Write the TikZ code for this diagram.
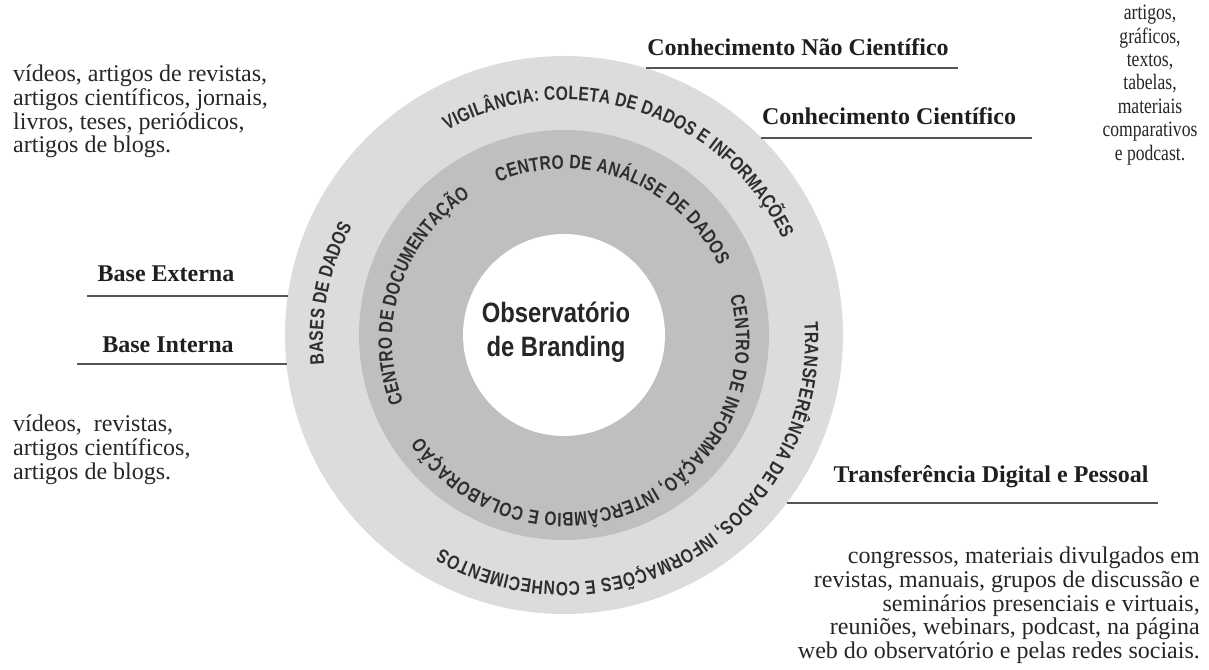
\documentclass[tikz,border=0pt]{standalone}
\usepackage{fontspec}
\setmainfont{Liberation Serif}
\newfontfamily\ringfont{Liberation Sans}[FakeStretch=0.8]
\newfontfamily\corefont{Liberation Sans}[FakeStretch=0.85]
\newfontfamily\narrowserif{Liberation Serif}[FakeStretch=0.8]
\usetikzlibrary{decorations.text}
\definecolor{ringink}{HTML}{2E2E2E}
\definecolor{ringouter}{HTML}{DCDCDC}
\definecolor{ringmid}{HTML}{BFBFBF}
\definecolor{leadgray}{HTML}{555555}
\newcommand\ringtype{\ringfont\bfseries\fontsize{19.5}{20}\selectfont}

\begin{document}
\begin{tikzpicture}[x=1pt,y=1pt,
  disc/.style={circle,inner sep=0pt,outer sep=0pt,draw=none},
  leader/.style={leadgray,line width=1.6pt},
  head/.style={font=\bfseries\fontsize{24}{24}\selectfont,text=black!88,inner sep=0pt,anchor=base},
  list/.style={font=\fontsize{24}{23.6}\selectfont,text=black!85,inner sep=0pt},
  ringtext/.style={decorate,decoration={text along path,text align={fit to path},text color=ringink,text={|\ringtype|#1}}}]

    \useasboundingbox (0,0) rectangle (1209,669);
    \coordinate (tc) at (564,328);

    % The rings
    \node [disc,fill=ringouter,minimum size=558pt] at (564,334) (outerring) {};
    \node [disc,fill=ringmid,minimum size=410pt] at (564,334) (midring) {};
    \node [disc,fill=white,minimum size=202pt] at (564,334) (core) {};
    \node [font=\corefont\bfseries\fontsize{28}{34}\selectfont,text=black!85,align=center] at (556,337) (obs) {Observatório\\de Branding};

    % Texts along the rings
    \path[ringtext={BASES DE DADOS}]
    ([shift={(185.5:241)}]tc) arc[start angle=185.5,end angle=151.5,radius=241];
    \path[ringtext={VIGILÂNCIA: COLETA DE DADOS E INFORMAÇÕES}]
    ([shift={(119:241)}]tc) arc[start angle=119,end angle=25,radius=241];
    \path[ringtext={TRANSFERÊNCIA DE DADOS, INFORMAÇÕES E CONHECIMENTOS}]
    ([shift={(4.5:241)}]tc) arc[start angle=4.5,end angle=-120.5,radius=241];
    \path[ringtext={CENTRO DE DOCUMENTAÇÃO}]
    ([shift={(201:172)}]tc) arc[start angle=201,end angle=123,radius=172];
    \path[ringtext={CENTRO DE ANÁLISE DE DADOS}]
    ([shift={(112.5:172)}]tc) arc[start angle=112.5,end angle=26,radius=172];
    \path[ringtext={CENTRO DE INFORMAÇÃO, INTERCÂMBIO E COLABORAÇÃO}]
    ([shift={(15:172)}]tc) arc[start angle=15,end angle=-146,radius=172];

    % Left side
    \coordinate (bextend) at (87,0);
    \coordinate (bintend) at (77,0);
    \node [list,align=left,anchor=north west] at (13,604) (bextlist) {vídeos, artigos de revistas,\\artigos científicos, jornais,\\livros, teses, periódicos,\\artigos de blogs.};
    \node [head] at (166,387) (bext) {Base Externa};
    \node [head] at (168,316) (bint) {Base Interna};
    \node [list,align=left,anchor=north west] at (13,254) (bintlist) {vídeos,\ \ revistas,\\artigos científicos,\\artigos de blogs.};

    % Right side
    \coordinate (cncend) at (958,0);
    \coordinate (ccend) at (1032,0);
    \coordinate (tdpend) at (1158,0);
    \node [head] at (798,613) (cnc) {Conhecimento Não Científico};
    \node [head] at (889,544) (cc) {Conhecimento Científico};
    \node [list,font=\narrowserif\fontsize{22}{23.4}\selectfont,align=center,anchor=north] at (1150,664) (cclist) {artigos,\\gráficos,\\textos,\\tabelas,\\materiais\\comparativos\\e podcast.};
    \node [head] at (991,186) (tdp) {Transferência Digital e Pessoal};
    \node [list,align=right,anchor=north east] at (1200,122) (tdplist) {congressos, materiais divulgados em\\revistas, manuais, grupos de discussão e\\seminários presenciais e virtuais,\\reuniões, webinars, podcast, na página\\web do observatório e pelas redes sociais.};

    % Leaders
    \path[leader]
    (outerring.172) edge (outerring.172 -| bextend)
    (outerring.186.8) edge (outerring.186.8 -| bintend)
    (outerring.73.1) edge (outerring.73.1 -| cncend)
    (outerring.45.2) edge (outerring.45.2 -| ccend)
    (outerring.323.74) edge (outerring.323.74 -| tdpend);
\end{tikzpicture}
\end{document}
